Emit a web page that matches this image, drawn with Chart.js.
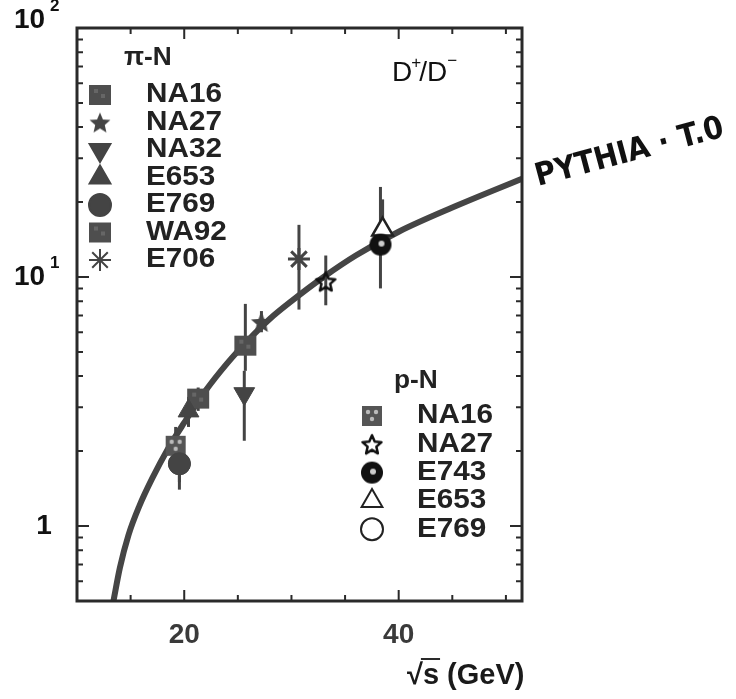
<!DOCTYPE html>
<html>
<head>
    <meta charset="utf-8">
    <title>D+/D- vs sqrt(s)</title>
    <script src="https://cdn.jsdelivr.net/npm/chart.js"></script>
    <style>
        body { margin: 0; background: #fff; }
        #wrap { width: 736px; height: 699px; }
    </style>
</head>
<body>
    <div id="wrap"><canvas id="ratioChart" width="736" height="699"></canvas></div>

    <script>
        // PYTHIA prediction
        var curveX = [13.4, 14.0, 14.8, 15.8, 17.0, 18.5, 20, 22, 24, 26, 28, 30, 33, 36, 40, 45, 51.5];
        var curveY = [0.5, 0.68, 0.92, 1.2, 1.55, 2.05, 2.6, 3.5, 4.5, 5.6, 6.8, 8.0, 10.0, 12.2, 15.2, 19.0, 24.8];

        // pi-N measurements (one point per experiment)
        var piNames = ['NA16', 'NA27', 'NA32', 'E653', 'E769', 'WA92', 'E706'];
        var piX = [25.7, 27.2, 25.6, 20.4, 19.55, 21.3, 30.7];
        var piY = [5.3, 6.6, 3.4, 2.9, 1.78, 3.25, 11.8];
        var piLo = [4.2, 6.0, 2.2, 2.5, 1.4, 2.9, 7.4];
        var piHi = [7.8, 7.3, 4.2, 3.3, 2.05, 3.6, 16.2];

        // p-N measurements
        var pNames = ['NA16', 'NA27', 'E743', 'E653', 'E769'];
        var pX = [19.2, 33.2, 38.3, 38.5, 19.55];
        var pY = [2.1, 9.6, 13.5, 15.5, 1.78];
        var pLo = [1.8, 7.7, 9.0, 12.5, 1.5];
        var pHi = [2.5, 12.2, 23.0, 20.5, 2.0];

        // labelled ticks
        var xTickLabels = [20, 40];
        var yTickLabels = [1, 10, 100];

        var ink = '#444';
        var textInk = '#222';
        var font = '"Liberation Sans", Arial';

        function makeMarker(size, draw) {
            var c = document.createElement('canvas');
            c.width = size; c.height = size;
            draw(c.getContext('2d'), size);
            return c;
        }

        function starPath(g, cx, cy, ro, ri) {
            g.beginPath();
            for (var i = 0; i < 10; i++) {
                var r = i % 2 ? ri : ro;
                var a = -Math.PI / 2 + i * Math.PI / 5;
                g.lineTo(cx + r * Math.cos(a), cy + r * Math.sin(a));
            }
            g.closePath();
        }

        var squareMark = makeMarker(24, function (g, s) {
            g.fillStyle = '#4e4e4e';
            g.fillRect(1, 2, s - 2, s - 4);
            g.fillStyle = '#666';
            g.fillRect(6, 6, 4, 4);
            g.fillRect(13, 11, 4, 4);
        });
        var dottedSquare = makeMarker(24, function (g, s) {
            g.fillStyle = '#555';
            g.fillRect(2, 2, s - 4, s - 4);
            g.fillStyle = '#bbb';
            g.beginPath(); g.arc(8, 8, 2.2, 0, 7); g.fill();
            g.beginPath(); g.arc(16, 8, 2.2, 0, 7); g.fill();
            g.beginPath(); g.arc(12, 15, 2.2, 0, 7); g.fill();
        });
        var fullStar = makeMarker(24, function (g, s) {
            g.fillStyle = ink;
            starPath(g, s / 2, s / 2 + 1, 11, 5);
            g.fill();
        });
        var openStar = makeMarker(24, function (g, s) {
            g.strokeStyle = '#111';
            g.lineWidth = 2.5;
            g.lineJoin = 'round';
            starPath(g, s / 2, s / 2 + 1, 10, 4.6);
            g.stroke();
        });
        var dotCircle = makeMarker(24, function (g, s) {
            g.fillStyle = '#111';
            g.beginPath(); g.arc(s / 2, s / 2, 11, 0, 7); g.fill();
            g.fillStyle = '#ccc';
            g.beginPath(); g.arc(s / 2 + 1, s / 2 - 1, 3, 0, 7); g.fill();
        });

        // marker style for each experiment, same order as the name arrays
        var piStyles = [
            { pointStyle: squareMark, rotation: 0 },
            { pointStyle: fullStar, rotation: 0 },
            { pointStyle: 'triangle', rotation: 180, radius: 12 },
            { pointStyle: 'triangle', rotation: 0, radius: 12 },
            { pointStyle: 'circle', rotation: 0, radius: 11 },
            { pointStyle: squareMark, rotation: 0 },
            { pointStyle: 'star', rotation: 0, radius: 11, lineWidth: 3 }
        ];
        var pStyles = [
            { pointStyle: dottedSquare, rotation: 0 },
            { pointStyle: openStar, rotation: 0 },
            { pointStyle: dotCircle, rotation: 0 },
            { pointStyle: 'triangle', rotation: 0, radius: 12, open: true },
            { pointStyle: 'circle', rotation: 0, radius: 10, open: true, under: true }
        ];

        var datasets = [];
        datasets.push({
            type: 'line',
            label: 'PYTHIA',
            data: curveX.map(function (x, i) { return { x: x, y: curveY[i] }; }),
            borderColor: '#454545',
            borderWidth: 6,
            pointRadius: 0,
            cubicInterpolationMode: 'monotone',
            order: 10
        });

        function addGroup(names, xs, ys, lo, hi, styles, group) {
            names.forEach(function (name, i) {
                var st = styles[i];
                datasets.push({
                    type: 'scatter',
                    label: group + ' ' + name,
                    data: [{ x: xs[i], y: ys[i] }],
                    errLo: [lo[i]],
                    errHi: [hi[i]],
                    pointStyle: st.pointStyle,
                    rotation: st.rotation,
                    pointRadius: st.radius || 11,
                    backgroundColor: st.open ? '#fff' : ink,
                    borderColor: st.open ? '#222' : ink,
                    borderWidth: st.open ? 2.5 : (st.lineWidth || 1),
                    order: st.under ? 2 : 1
                });
            });
        }
        addGroup(piNames, piX, piY, piLo, piHi, piStyles, 'pi-N');
        addGroup(pNames, pX, pY, pLo, pHi, pStyles, 'p-N');

        // vertical error bars for every measured point
        var errorBars = {
            id: 'errorBars',
            beforeDatasetsDraw: function (chart) {
                var ctx = chart.ctx, xs = chart.scales.x, ys = chart.scales.y;
                ctx.save();
                ctx.strokeStyle = ink;
                ctx.lineWidth = 3;
                chart.data.datasets.forEach(function (ds) {
                    if (!ds.errLo) return;
                    ds.data.forEach(function (p, i) {
                        var px = xs.getPixelForValue(p.x);
                        ctx.beginPath();
                        ctx.moveTo(px, ys.getPixelForValue(ds.errLo[i]));
                        ctx.lineTo(px, ys.getPixelForValue(ds.errHi[i]));
                        ctx.stroke();
                    });
                });
                ctx.restore();
            }
        };

        function drawMark(ctx, st, x, y) {
            ctx.save();
            ctx.fillStyle = st.open ? '#fff' : ink;
            ctx.strokeStyle = st.open ? '#222' : ink;
            Chart.helpers.drawPoint(ctx, {
                pointStyle: st.pointStyle,
                rotation: st.rotation,
                radius: st.radius || 11,
                borderWidth: st.open ? 2.5 : (st.lineWidth || 1)
            }, x, y);
            ctx.restore();
        }

        // wide bold text, like the heavy lettering of the plot
        function wideText(ctx, str, x, y, stretch) {
            ctx.save();
            ctx.translate(x, y);
            ctx.scale(stretch, 1);
            ctx.fillText(str, 0, 0);
            ctx.restore();
        }

        // frame, inward ticks, tick labels, legends and annotations
        var decorations = {
            id: 'decorations',
            afterDraw: function (chart) {
                var ctx = chart.ctx, a = chart.chartArea;
                var xs = chart.scales.x, ys = chart.scales.y;
                ctx.save();

                ctx.strokeStyle = '#2a2a2a';
                ctx.lineWidth = 3;
                ctx.strokeRect(a.left, a.top, a.right - a.left, a.bottom - a.top);

                ctx.lineWidth = 2;
                for (var v = 15; v <= 50; v += 5) {
                    var px = xs.getPixelForValue(v);
                    var len = xTickLabels.indexOf(v) >= 0 ? 11 : 6;
                    ctx.beginPath();
                    ctx.moveTo(px, a.bottom); ctx.lineTo(px, a.bottom - len);
                    ctx.moveTo(px, a.top); ctx.lineTo(px, a.top + len);
                    ctx.stroke();
                }
                [0.1, 1, 10].forEach(function (d) {
                    for (var m = 1; m <= 9; m++) {
                        var val = m * d;
                        if (val < 0.5 || val > 100) continue;
                        var py = ys.getPixelForValue(val);
                        var l = m === 1 ? 12 : 6;
                        ctx.beginPath();
                        ctx.moveTo(a.left, py); ctx.lineTo(a.left + l, py);
                        ctx.moveTo(a.right, py); ctx.lineTo(a.right - l, py);
                        ctx.stroke();
                    }
                });

                // y labels: 1, 10^1, 10^2
                ctx.fillStyle = '#111';
                ctx.textBaseline = 'middle';
                yTickLabels.forEach(function (val) {
                    var py = ys.getPixelForValue(val);
                    if (val === 1) {
                        ctx.font = 'bold 28px ' + font;
                        ctx.textAlign = 'center';
                        ctx.fillText('1', 44, py);
                        return;
                    }
                    var exp = String(Math.round(Math.log10(val)));
                    var yy = val === 100 ? py - 8 : py;
                    ctx.font = 'bold 28px ' + font;
                    ctx.textAlign = 'left';
                    ctx.fillText('10', 14, yy);
                    ctx.font = 'bold 17px ' + font;
                    ctx.fillText(exp, 50, yy - 14);
                });

                // x title
                ctx.fillStyle = '#1a1a1a';
                ctx.textAlign = 'left';
                ctx.textBaseline = 'alphabetic';
                ctx.font = 'bold 29px ' + font;
                ctx.fillText('\u221A', 407, 684);
                var rootW = ctx.measureText('\u221A').width;
                ctx.fillText('s (GeV)', 407 + rootW, 684);
                var sW = ctx.measureText('s').width;
                ctx.lineWidth = 2;
                ctx.beginPath();
                ctx.moveTo(407 + rootW - 2, 659); ctx.lineTo(407 + rootW + sW + 1, 659);
                ctx.stroke();

                // pi-N legend
                ctx.fillStyle = textInk;
                ctx.font = 'bold 25px ' + font;
                ctx.textBaseline = 'middle';
                wideText(ctx, '\u03C0-N', 124, 58, 1.05);
                ctx.font = 'bold 27px ' + font;
                piNames.forEach(function (name, i) {
                    var y = 95 + i * 27.5;
                    drawMark(ctx, piStyles[i], 100, y);
                    ctx.fillStyle = textInk;
                    wideText(ctx, name, 146, y, 1.1);
                });

                // p-N legend
                ctx.font = 'bold 25px ' + font;
                wideText(ctx, 'p-N', 394, 381, 1.05);
                ctx.font = 'bold 27px ' + font;
                pNames.forEach(function (name, i) {
                    var y = 416 + i * 28.3;
                    var st = pStyles[i];
                    drawMark(ctx, st.under ? Object.assign({}, st, { radius: 11 }) : st, 372, y);
                    ctx.fillStyle = textInk;
                    wideText(ctx, name, 417, y, 1.1);
                });

                // D+/D- tag
                ctx.fillStyle = '#111';
                ctx.textBaseline = 'alphabetic';
                ctx.font = '28px ' + font;
                var x0 = 392;
                ctx.fillText('D', x0, 81); x0 += ctx.measureText('D').width;
                ctx.font = '17px ' + font;
                ctx.fillText('+', x0 - 1, 68); x0 += ctx.measureText('+').width - 3;
                ctx.font = '28px ' + font;
                ctx.fillText('/D', x0, 81); x0 += ctx.measureText('/D').width;
                ctx.font = '17px ' + font;
                ctx.fillText('\u2212', x0, 66);

                // handwritten model tag
                ctx.save();
                ctx.translate(538, 186);
                ctx.rotate(-0.26);
                ctx.scale(0.95, 1.05);
                ctx.font = 'bold 30px "DejaVu Sans", sans-serif';
                ctx.fillStyle = '#111';
                ctx.fillText('PYTHIA \u00B7 T.0', 0, 0);
                ctx.restore();

                ctx.restore();
            }
        };

        new Chart('ratioChart', {
            type: 'scatter',
            data: { datasets: datasets },
            options: {
                responsive: false,
                animation: false,
                layout: { padding: { top: 28, right: 214, left: 0, bottom: 0 } },
                plugins: { legend: { display: false }, tooltip: { enabled: false } },
                scales: {
                    x: {
                        type: 'linear',
                        min: 10,
                        max: 51.5,
                        afterFit: function (s) { s.height = 98; },
                        afterBuildTicks: function (s) {
                            s.ticks = xTickLabels.map(function (v) { return { value: v }; });
                        },
                        grid: { display: false, drawTicks: false },
                        border: { display: false },
                        ticks: {
                            padding: 17,
                            color: '#3a3a3a',
                            font: { family: font, size: 28, weight: 'bold' }
                        }
                    },
                    y: {
                        type: 'logarithmic',
                        min: 0.5,
                        max: 100,
                        afterFit: function (s) { s.width = 77; },
                        grid: { display: false, drawTicks: false },
                        border: { display: false },
                        ticks: { display: false }
                    }
                }
            },
            plugins: [errorBars, decorations]
        });
    </script>
</body>
</html>
